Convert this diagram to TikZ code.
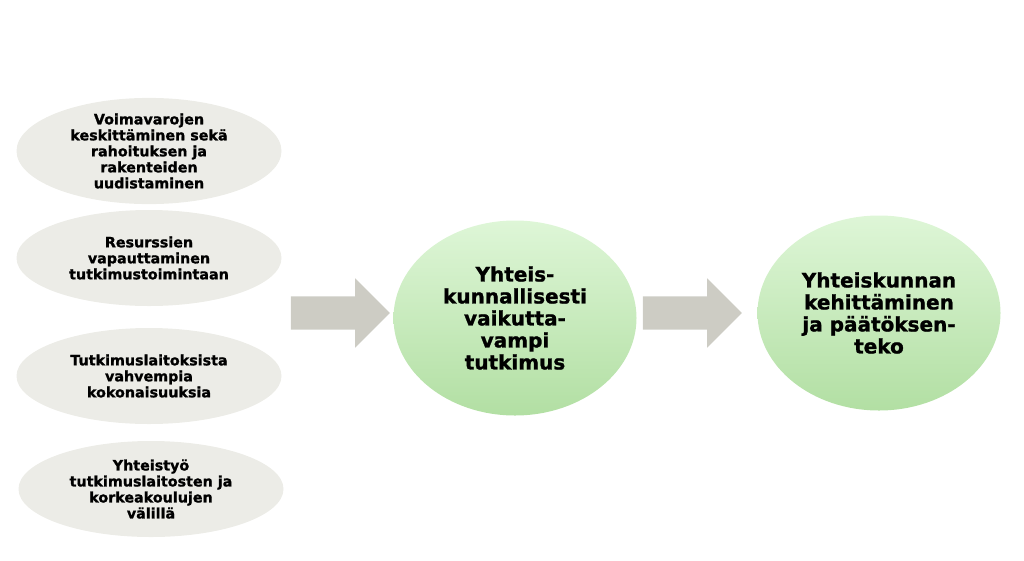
\documentclass[tikz,border=0pt]{standalone}
\usepackage{fontspec}
\setmainfont{DejaVu Sans}[BoldFeatures={FakeBold=1.2}]
\usetikzlibrary{positioning,shapes.geometric,shapes.arrows}
\definecolor{greyfill}{RGB}{236,236,231}
\definecolor{arrowgrey}{RGB}{205,204,196}
\definecolor{greentop}{RGB}{222,246,215}
\definecolor{greenbot}{RGB}{178,223,163}

\begin{document}
\begin{tikzpicture}[x=1pt,y=-1pt]
 \tikzset{cause/.style={ellipse,fill=greyfill,minimum width=265pt,minimum height=96pt,inner sep=0pt,align=center,font=\bfseries\fontsize{14.3}{16}\selectfont},
  goal/.style={ellipse,top color=greentop,bottom color=greenbot,minimum width=243pt,minimum height=195pt,inner sep=0pt,align=center,font=\bfseries\fontsize{20}{22}\selectfont},
  blockarrow/.style={single arrow,fill=arrowgrey,minimum height=99pt,inner xsep=0pt,inner ysep=16.5pt,single arrow head extend=18pt}}
 \useasboundingbox (0,0) rectangle (1024,560);
 \node[cause] (C1) at (149,151) {Voimavarojen\\keskittäminen sekä\\rahoituksen ja\\rakenteiden\\uudistaminen};
 \node[cause] (C2) at (149,258) {Resurssien\\vapauttaminen\\tutkimustoimintaan};
 \node[cause] (C3) at (149,376) {Tutkimuslaitoksista\\vahvempia\\kokonaisuuksia};
 \node[cause] (C4) at (151,489) {Yhteistyö\\tutkimuslaitosten ja\\korkeakoulujen\\välillä};
 \node[goal] (R) at (515,318) {Yhteis-\\kunnallisesti\\vaikutta-\\vampi\\tutkimus};
 \node[goal] (S) at (879,313) {Yhteiskunnan\\kehittäminen\\ja päätöksen-\\teko};
 \node[blockarrow] (A1) at (332,313) {};
 \node[blockarrow] (A2) at (684,313) {};
\end{tikzpicture}
\end{document}
